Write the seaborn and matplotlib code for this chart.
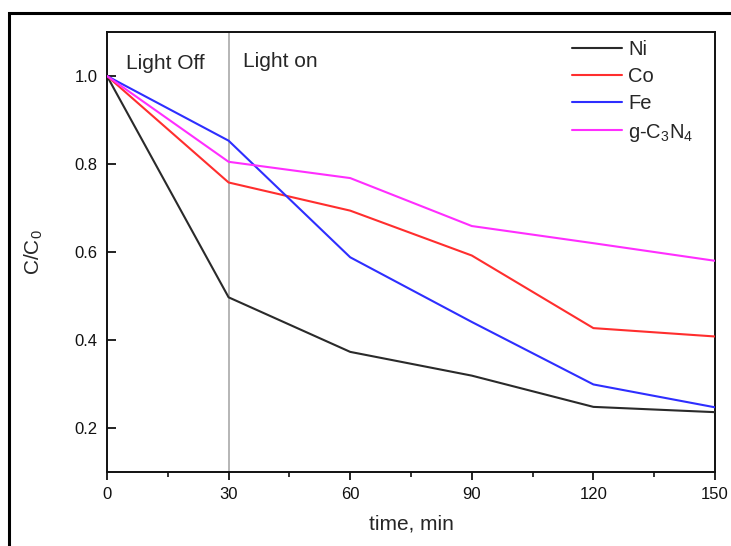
import matplotlib
matplotlib.use("Agg")
import matplotlib.pyplot as plt
from matplotlib.patches import Rectangle
from matplotlib.ticker import MultipleLocator
import seaborn as sns
import pandas as pd

# Degradation kinetics: relative concentration C/C0 over time
time_min = [0, 30, 60, 90, 120, 150]
ni = [1.0, 0.497, 0.373, 0.319, 0.248, 0.236]
co = [1.0, 0.758, 0.694, 0.592, 0.427, 0.408]
fe = [1.0, 0.853, 0.588, 0.441, 0.299, 0.247]
gcn = [1.0, 0.805, 0.768, 0.659, 0.620, 0.580]

series_names = ["Ni", "Co", "Fe", "g-C$_3$N$_4$"]
series_values = [ni, co, fe, gcn]
series_colors = ["#2a2a2a", "#ff2e2e", "#2e2eff", "#ff2eff"]

rows = []
for name, vals in zip(series_names, series_values):
    for t, v in zip(time_min, vals):
        rows.append({"time": t, "ratio": v, "sample": name})
df = pd.DataFrame(rows)

sns.set_theme(style="ticks")
plt.rcParams["font.family"] = ["Liberation Sans", "DejaVu Sans"]
plt.rcParams["mathtext.fontset"] = "custom"
plt.rcParams["mathtext.rm"] = "Liberation Sans"
plt.rcParams["mathtext.it"] = "Liberation Sans"

fig = plt.figure(figsize=(7.31, 5.46), dpi=100)
ax = fig.add_axes([107 / 731, 74 / 546, 608 / 731, 440 / 546])

# dark/light boundary
ax.axvline(30, color="#b0b0b0", lw=1.3, zorder=1)

sns.lineplot(data=df, x="time", y="ratio", hue="sample",
             palette=dict(zip(series_names, series_colors)),
             hue_order=series_names, lw=1.5, ax=ax, zorder=3)

ax.set_xlim(0, 150)
ax.set_ylim(0.1, 1.1)
ax.xaxis.set_major_locator(MultipleLocator(30))
ax.xaxis.set_minor_locator(MultipleLocator(15))
ax.set_yticks([0.2, 0.4, 0.6, 0.8, 1.0])
ax.tick_params(axis="x", which="major", direction="out", length=5.5, width=1.3,
               labelsize=12, pad=5, colors="#111111")
ax.tick_params(axis="x", which="minor", direction="out", length=3.5, width=1.2,
               colors="#111111")
ax.tick_params(axis="y", which="major", direction="in", length=6.5, width=1.3,
               labelsize=12, pad=7, colors="#111111")
for s in ax.spines.values():
    s.set_linewidth(1.4)
    s.set_color("#111111")

ax.set_xlabel("time, min", fontsize=15, labelpad=9)
ax.set_ylabel("C/C$_0$", fontsize=15, labelpad=21)

ax.text(0.031, 0.916, "Light Off", transform=ax.transAxes, fontsize=15,
        ha="left", va="baseline")
ax.text(0.224, 0.921, "Light on", transform=ax.transAxes, fontsize=15,
        ha="left", va="baseline")

leg = ax.legend(loc="upper left", bbox_to_anchor=(0.765, 0.981), frameon=False,
                fontsize=14.5, handlelength=2.48, handletextpad=0.3,
                labelspacing=0.4, borderaxespad=0, borderpad=0, title=None)
for h in leg.get_lines():
    h.set_linewidth(1.5)

# outer frame around the figure
fig.add_artist(Rectangle((9 / 731, -0.2), 1.5, 0.2 + (546 - 13) / 546,
                         transform=fig.transFigure, fill=False,
                         edgecolor="black", lw=2.2, clip_on=False))

fig.savefig("out.png", dpi=100, facecolor="white")
